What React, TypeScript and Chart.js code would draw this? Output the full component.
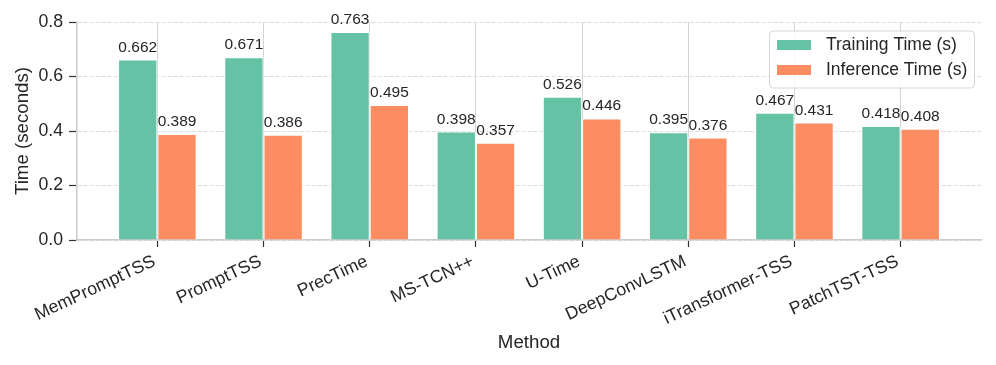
import React, { useEffect, useRef } from "react";
import { Chart, registerables } from "chart.js";

Chart.register(...registerables);

const methods = [
  "MemPromptTSS",
  "PromptTSS",
  "PrecTime",
  "MS-TCN++",
  "U-Time",
  "DeepConvLSTM",
  "iTransformer-TSS",
  "PatchTST-TSS",
];
const trainingTime = [0.662, 0.671, 0.763, 0.398, 0.526, 0.395, 0.467, 0.418];
const inferenceTime = [0.389, 0.386, 0.495, 0.357, 0.446, 0.376, 0.431, 0.408];
const yTicks = [0.0, 0.2, 0.4, 0.6, 0.8];
const seriesNames = ["Training Time (s)", "Inference Time (s)"];
const seriesColors = ["#66c2a5", "#fc8d62"];

const FONT = '"Liberation Sans", Arial, Helvetica, sans-serif';
const TEXT = "#262626";

const valueLabels = {
  id: "valueLabels",
  afterDatasetsDraw(chart: any) {
    const ctx = chart.ctx;
    ctx.save();
    ctx.font = `15.5px ${FONT}`;
    ctx.fillStyle = TEXT;
    ctx.textAlign = "center";
    ctx.textBaseline = "alphabetic";
    chart.data.datasets.forEach((ds: any, di: number) => {
      const meta = chart.getDatasetMeta(di);
      meta.data.forEach((el: any, i: number) => {
        const v = ds.data[i].y;
        ctx.fillText(v.toFixed(3), el.x, el.y - 8);
      });
    });
    ctx.restore();
  },
};

const boxLegend = {
  id: "boxLegend",
  afterDraw(chart: any) {
    const ctx = chart.ctx;
    const ca = chart.chartArea;
    const w = 205;
    const h = 57;
    const x = ca.right - 7 - w;
    const y = ca.top + 8.5;
    ctx.save();
    ctx.beginPath();
    if (ctx.roundRect) ctx.roundRect(x + 0.5, y + 0.5, w, h, 4);
    else ctx.rect(x + 0.5, y + 0.5, w, h);
    ctx.fillStyle = "rgba(255,255,255,0.8)";
    ctx.fill();
    ctx.strokeStyle = "#d6d6d6";
    ctx.lineWidth = 1;
    ctx.stroke();
    ctx.font = `17.5px ${FONT}`;
    ctx.textAlign = "left";
    ctx.textBaseline = "alphabetic";
    seriesNames.forEach((name, i) => {
      const ry = y + 9.5 + i * 25;
      ctx.fillStyle = seriesColors[i];
      ctx.fillRect(x + 8, ry, 34, 10);
      ctx.fillStyle = TEXT;
      ctx.fillText(name, x + 57, ry + 9.5);
    });
    ctx.restore();
  },
};

export default function App() {
  const ref = useRef<HTMLCanvasElement | null>(null);

  useEffect(() => {
    if (!ref.current) return;
    const toPoints = (arr: number[]) => arr.map((v, i) => ({ x: i, y: v }));
    const chart = new Chart(ref.current, {
      type: "bar",
      data: {
        datasets: [
          {
            label: seriesNames[0],
            data: toPoints(trainingTime),
            backgroundColor: seriesColors[0],
            borderColor: "#ffffff",
            borderWidth: 1,
            categoryPercentage: 0.74,
            barPercentage: 1,
          },
          {
            label: seriesNames[1],
            data: toPoints(inferenceTime),
            backgroundColor: seriesColors[1],
            borderColor: "#ffffff",
            borderWidth: 1,
            categoryPercentage: 0.74,
            barPercentage: 1,
          },
        ],
      },
      options: {
        animation: false,
        responsive: false,
        devicePixelRatio: 1,
        layout: { padding: { top: 22, right: 15, left: 0, bottom: 0 } },
        plugins: {
          legend: { display: false },
          tooltip: { enabled: false },
        },
        scales: {
          x: {
            type: "linear",
            min: -0.757,
            max: 7.757,
            offset: false,
            afterBuildTicks: (scale: any) => {
              scale.ticks = methods.map((_, i) => ({ value: i }));
            },
            afterFit: (scale: any) => {
              scale.height = 125;
            },
            ticks: {
              autoSkip: false,
              minRotation: 25,
              maxRotation: 25,
              padding: 4,
              labelOffset: -3,
              color: TEXT,
              font: { family: FONT, size: 17.7 },
              callback: (_v: any, i: number) => methods[i],
            },
            grid: {
              offset: false,
              display: true,
              drawOnChartArea: true,
              color: "#d4d4d4",
              lineWidth: 1,
              tickLength: 7,
              tickColor: "#333333",
              tickWidth: 1.2,
            },
            border: { display: true, color: "#cccccc", width: 1.5 },
            title: {
              display: true,
              text: "Method",
              color: TEXT,
              font: { family: FONT, size: 18.7 },
              padding: { top: 0, bottom: 11 },
            },
          },
          y: {
            type: "linear",
            min: 0,
            max: 0.8,
            afterBuildTicks: (scale: any) => {
              scale.ticks = yTicks.map((v) => ({ value: v }));
            },
            afterFit: (scale: any) => {
              scale.width = 77;
            },
            ticks: {
              padding: 6,
              color: TEXT,
              font: { family: FONT, size: 17.7 },
              callback: (v: any) => Number(v).toFixed(1),
            },
            grid: {
              color: "#dddddd",
              lineWidth: 1,
              tickLength: 8,
              tickColor: "#333333",
              tickWidth: 1.2,
            },
            border: { display: true, color: "#cccccc", width: 1.5, dash: [4, 2] },
            title: {
              display: true,
              text: "Time (seconds)",
              color: TEXT,
              font: { family: FONT, size: 18.7 },
              padding: { top: 12, bottom: 0 },
            },
          },
        },
      },
      plugins: [valueLabels, boxLegend],
    } as any);
    return () => chart.destroy();
  }, []);

  return (
    <div style={{ position: "fixed", left: 0, top: 0, width: 996, height: 365, background: "#ffffff" }}>
      <canvas ref={ref} width={996} height={365} />
    </div>
  );
}
